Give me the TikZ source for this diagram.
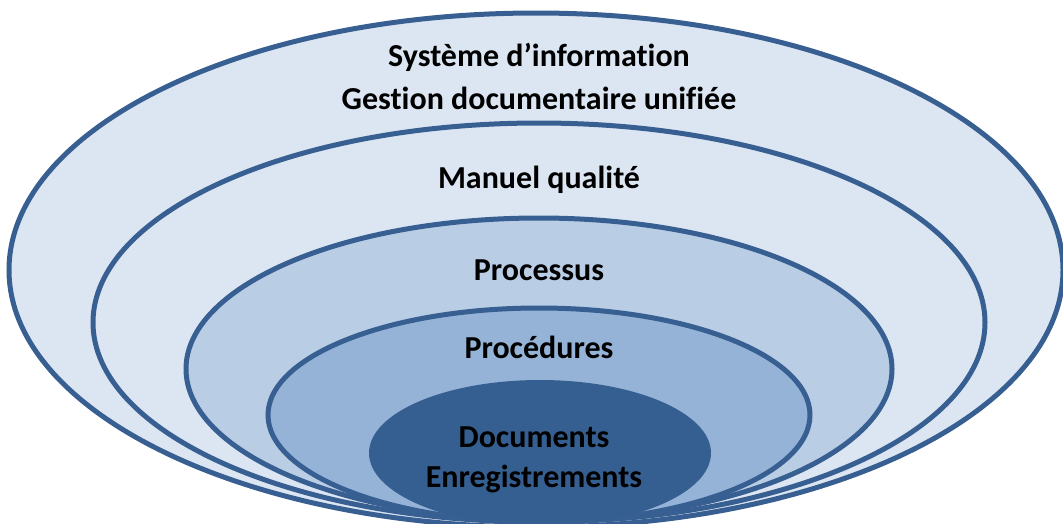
\documentclass[tikz,border=0pt]{standalone}
\usepackage{fontspec}
\setmainfont{Carlito}[Ligatures=NoCommon]
\definecolor{edge}{HTML}{385F92}
\definecolor{lightfill}{HTML}{DCE6F2}
\definecolor{midfill}{HTML}{B9CDE5}
\definecolor{deepfill}{HTML}{95B3D7}
\definecolor{corefill}{HTML}{365F91}
\tikzset{
  ring/.style={draw=edge, line width=5pt},
  lbl/.style={font=\bfseries\fontsize{32}{38}\selectfont, text=black, align=center, inner sep=0pt}
}
\begin{document}
\begin{tikzpicture}[x=1pt,y=-1pt]
\useasboundingbox (0,0) rectangle (1063,523);
\clip (0,0) rectangle (1063,523);
\fill[white] (0,0) rectangle (1063,523);
\draw[ring, fill=lightfill] (536,270) ellipse [x radius=527, y radius=257];
\draw[ring, fill=lightfill] (539,322.5) ellipse [x radius=446, y radius=199.5];
\draw[ring, fill=midfill] (539,369) ellipse [x radius=353, y radius=151];
\draw[ring, fill=deepfill] (539,415) ellipse [x radius=271, y radius=107];
\fill[corefill] (540,453) ellipse [x radius=171, y radius=73];
\node[lbl] (si) at (539,57) {Système d’information};
\node[lbl] (gd) at (539,98) {Gestion documentaire unifiée};
\node[lbl] (mq) at (539,180) {Manuel qualité};
\node[lbl] (pr) at (539,270) {Processus};
\node[lbl] (pc) at (539,347) {Procédures};
\node[lbl] (dc) at (534,437) {Documents};
\node[lbl] (en) at (534,479) {Enregistrements};
\end{tikzpicture}
\end{document}
